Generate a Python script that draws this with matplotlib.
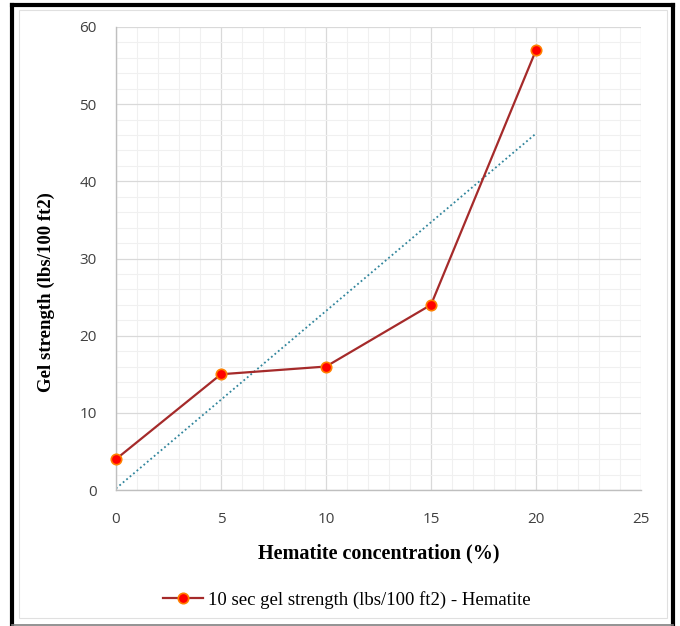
import matplotlib
matplotlib.use("Agg")
import matplotlib.pyplot as plt
import numpy as np
from matplotlib.ticker import MultipleLocator
from matplotlib.lines import Line2D
from matplotlib.patches import Rectangle

concentration = [0, 5, 10, 15, 20]
gel_strength = [4, 15, 16, 24, 57]
series_label = "10 sec gel strength (lbs/100 ft2) - Hematite"
x_label = "Hematite concentration (%)"
y_label = "Gel strength (lbs/100 ft2)"

W, H = 680, 626
fig = plt.figure(figsize=(6.8, 6.26), dpi=100)
ax = fig.add_axes([116/W, 1-490/H, (641-116)/W, (490-27)/H])

def fx(px):
    return px / W

def fy(py):
    return 1 - py / H

# outer black frame (left, top, right) and grey bottom line
fig.add_artist(Line2D([fx(12), fx(12)], [fy(5), fy(630)], color="black", linewidth=3, transform=fig.transFigure))
fig.add_artist(Line2D([fx(12), fx(673)], [fy(5), fy(5)], color="black", linewidth=3, transform=fig.transFigure))
fig.add_artist(Line2D([fx(673), fx(673)], [fy(5), fy(630)], color="black", linewidth=3, transform=fig.transFigure))
fig.add_artist(Line2D([fx(12), fx(673)], [fy(624.5), fy(624.5)], color="#808080", linewidth=1.2, transform=fig.transFigure))
# inner light frame
fig.patches.append(Rectangle((fx(19), fy(618)), (667-19)/W, (618-10)/H,
                             transform=fig.transFigure, fill=False, edgecolor="#E0E0E0", linewidth=0.8))

ax.set_xlim(0, 25)
ax.set_ylim(0, 60)
ax.xaxis.set_major_locator(MultipleLocator(5))
ax.xaxis.set_minor_locator(MultipleLocator(1))
ax.yaxis.set_major_locator(MultipleLocator(10))
ax.yaxis.set_minor_locator(MultipleLocator(2))
ax.grid(which="major", color="#D9D9D9", linewidth=0.9)
ax.grid(which="minor", color="#F0F0F0", linewidth=0.8)
ax.set_axisbelow(True)
for s in ["top", "right"]:
    ax.spines[s].set_visible(False)
for s in ["left", "bottom"]:
    ax.spines[s].set_color("#BFBFBF")
    ax.spines[s].set_linewidth(1.0)
ax.tick_params(which="both", length=0)
ax.tick_params(axis="x", pad=16, labelsize=11, labelcolor="#404040")
ax.tick_params(axis="y", pad=14, labelsize=11, labelcolor="#404040")
for lab in ax.get_xticklabels() + ax.get_yticklabels():
    lab.set_family("Open Sans")

# trendline (linear fit)
slope, intercept = np.polyfit(concentration, gel_strength, 1)
xt = np.array([min(concentration), max(concentration)])
ax.plot(xt, slope*xt + intercept, linestyle=(0, (1, 1.5)), color="#31859C", linewidth=1.3)

ax.plot(concentration, gel_strength, color="#A52A2A", linewidth=1.6, marker="o",
        markersize=7.5, markerfacecolor="#FF0000", markeredgecolor="#FF8000", markeredgewidth=1.2,
        clip_on=False, zorder=5)

ax.set_xlabel(x_label, family="Liberation Serif", fontweight="bold", fontsize=14.5, labelpad=12)
ax.set_ylabel(y_label, family="Liberation Serif", fontweight="bold", fontsize=13.5)
ax.yaxis.set_label_coords((55-116)/525, (490-292)/463)

handle = Line2D([], [], color="#A52A2A", linewidth=1.6, marker="o", markersize=7.5,
                markerfacecolor="#FF0000", markeredgecolor="#FF8000", markeredgewidth=1.2)
fig.legend([handle], [series_label], loc="center", bbox_to_anchor=(fx(347), fy(600)),
           frameon=False, prop={"family": "Liberation Serif", "size": 13.5}, handlelength=2.1,
           handletextpad=0.3)

fig.savefig("out.png", dpi=100)
